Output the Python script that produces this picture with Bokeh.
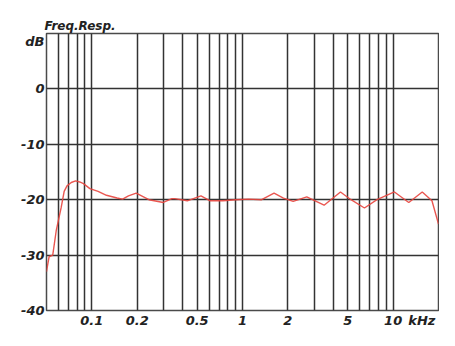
from bokeh.plotting import figure
from bokeh.models import Range1d, FixedTicker
from bokeh.embed import file_html
from bokeh.resources import INLINE

# frequency (kHz) and level (dB)
freq_khz = [0.05, 0.052, 0.055, 0.058, 0.0626, 0.0655, 0.0684, 0.073, 0.078, 0.083,
            0.088, 0.097, 0.11, 0.125, 0.147, 0.16, 0.175, 0.197, 0.239, 0.298,
            0.34, 0.355, 0.43, 0.53, 0.61, 0.74, 0.9, 1.10, 1.34, 1.62,
            1.87, 2.17, 2.67, 3.48, 4.47, 5.25, 6.45, 7.81, 10.2, 12.7,
            15.6, 18.1, 20.0]
level_db = [-33.0, -30.3, -30.0, -25.6, -21.4, -18.5, -17.5, -16.9, -16.6, -16.8,
            -17.1, -18.0, -18.5, -19.2, -19.7, -19.9, -19.3, -18.8, -20.0, -20.5,
            -19.8, -19.8, -20.2, -19.3, -20.2, -20.2, -20.0, -19.9, -20.0, -18.8,
            -19.7, -20.3, -19.5, -21.0, -18.6, -20.0, -21.5, -20.0, -18.6, -20.5,
            -18.6, -20.2, -24.4]

x_label_ticks = [0.1, 0.2, 0.5, 1, 2, 5, 10, 15.5]
x_label_texts = ["0.1", "0.2", "0.5", "1", "2", "5", "10", "kHz"]
x_grid_ticks = [0.06, 0.07, 0.08, 0.09, 0.1, 0.2, 0.3, 0.4, 0.5, 0.6, 0.7, 0.8, 0.9,
                1, 2, 3, 4, 5, 6, 7, 8, 9, 10]
y_label_ticks = [-40, -30, -20, -10, 0, 8.5]
y_label_texts = ["-40", "-30", "-20", "-10", "0", "dB"]
y_grid_ticks = [-30, -20, -10, 0]

p = figure(width=439, height=330, x_axis_type="log",
           x_range=Range1d(0.05, 20), y_range=Range1d(-40, 10),
           output_backend="svg", toolbar_location=None,
           title="Freq.Resp.",
           min_border_left=46, min_border_right=1, min_border_top=33, min_border_bottom=16)

p.background_fill_color = "white"
p.border_fill_color = "white"
p.outline_line_color = "#4a4a4a"
p.outline_line_width = 1.5

p.title.text_font = "DejaVu Sans"
p.title.text_font_style = "bold italic"
p.title.text_font_size = "12px"
p.title.text_color = "#222222"
p.title.align = "left"
p.title.offset = -2
p.title.standoff = 2

for ax in (p.xaxis[0], p.yaxis[0]):
    ax.axis_line_color = None
    ax.major_tick_line_color = None
    ax.minor_tick_line_color = None
    ax.major_tick_out = 0
    ax.major_tick_in = 0
    ax.minor_tick_out = 0
    ax.minor_tick_in = 0
    ax.major_label_text_font = "DejaVu Sans"
    ax.major_label_text_font_style = "bold italic"
    ax.major_label_text_font_size = "13px"
    ax.major_label_text_color = "#222222"
    ax.major_label_standoff = 2

p.xaxis.ticker = FixedTicker(ticks=x_label_ticks)
p.xaxis.major_label_overrides = {t: s for t, s in zip(x_label_ticks, x_label_texts)}
p.yaxis.ticker = FixedTicker(ticks=y_label_ticks)
p.yaxis.major_label_overrides = {t: s for t, s in zip(y_label_ticks, y_label_texts)}

p.xgrid.ticker = FixedTicker(ticks=x_grid_ticks)
p.ygrid.ticker = FixedTicker(ticks=y_grid_ticks)
for g in (p.xgrid[0], p.ygrid[0]):
    g.grid_line_color = "#333333"
    g.grid_line_width = 1.5

p.line(freq_khz, level_db, line_color="#e8453e", line_width=1.4, line_alpha=0.9)

open("out.html", "w").write(file_html(p, INLINE))
